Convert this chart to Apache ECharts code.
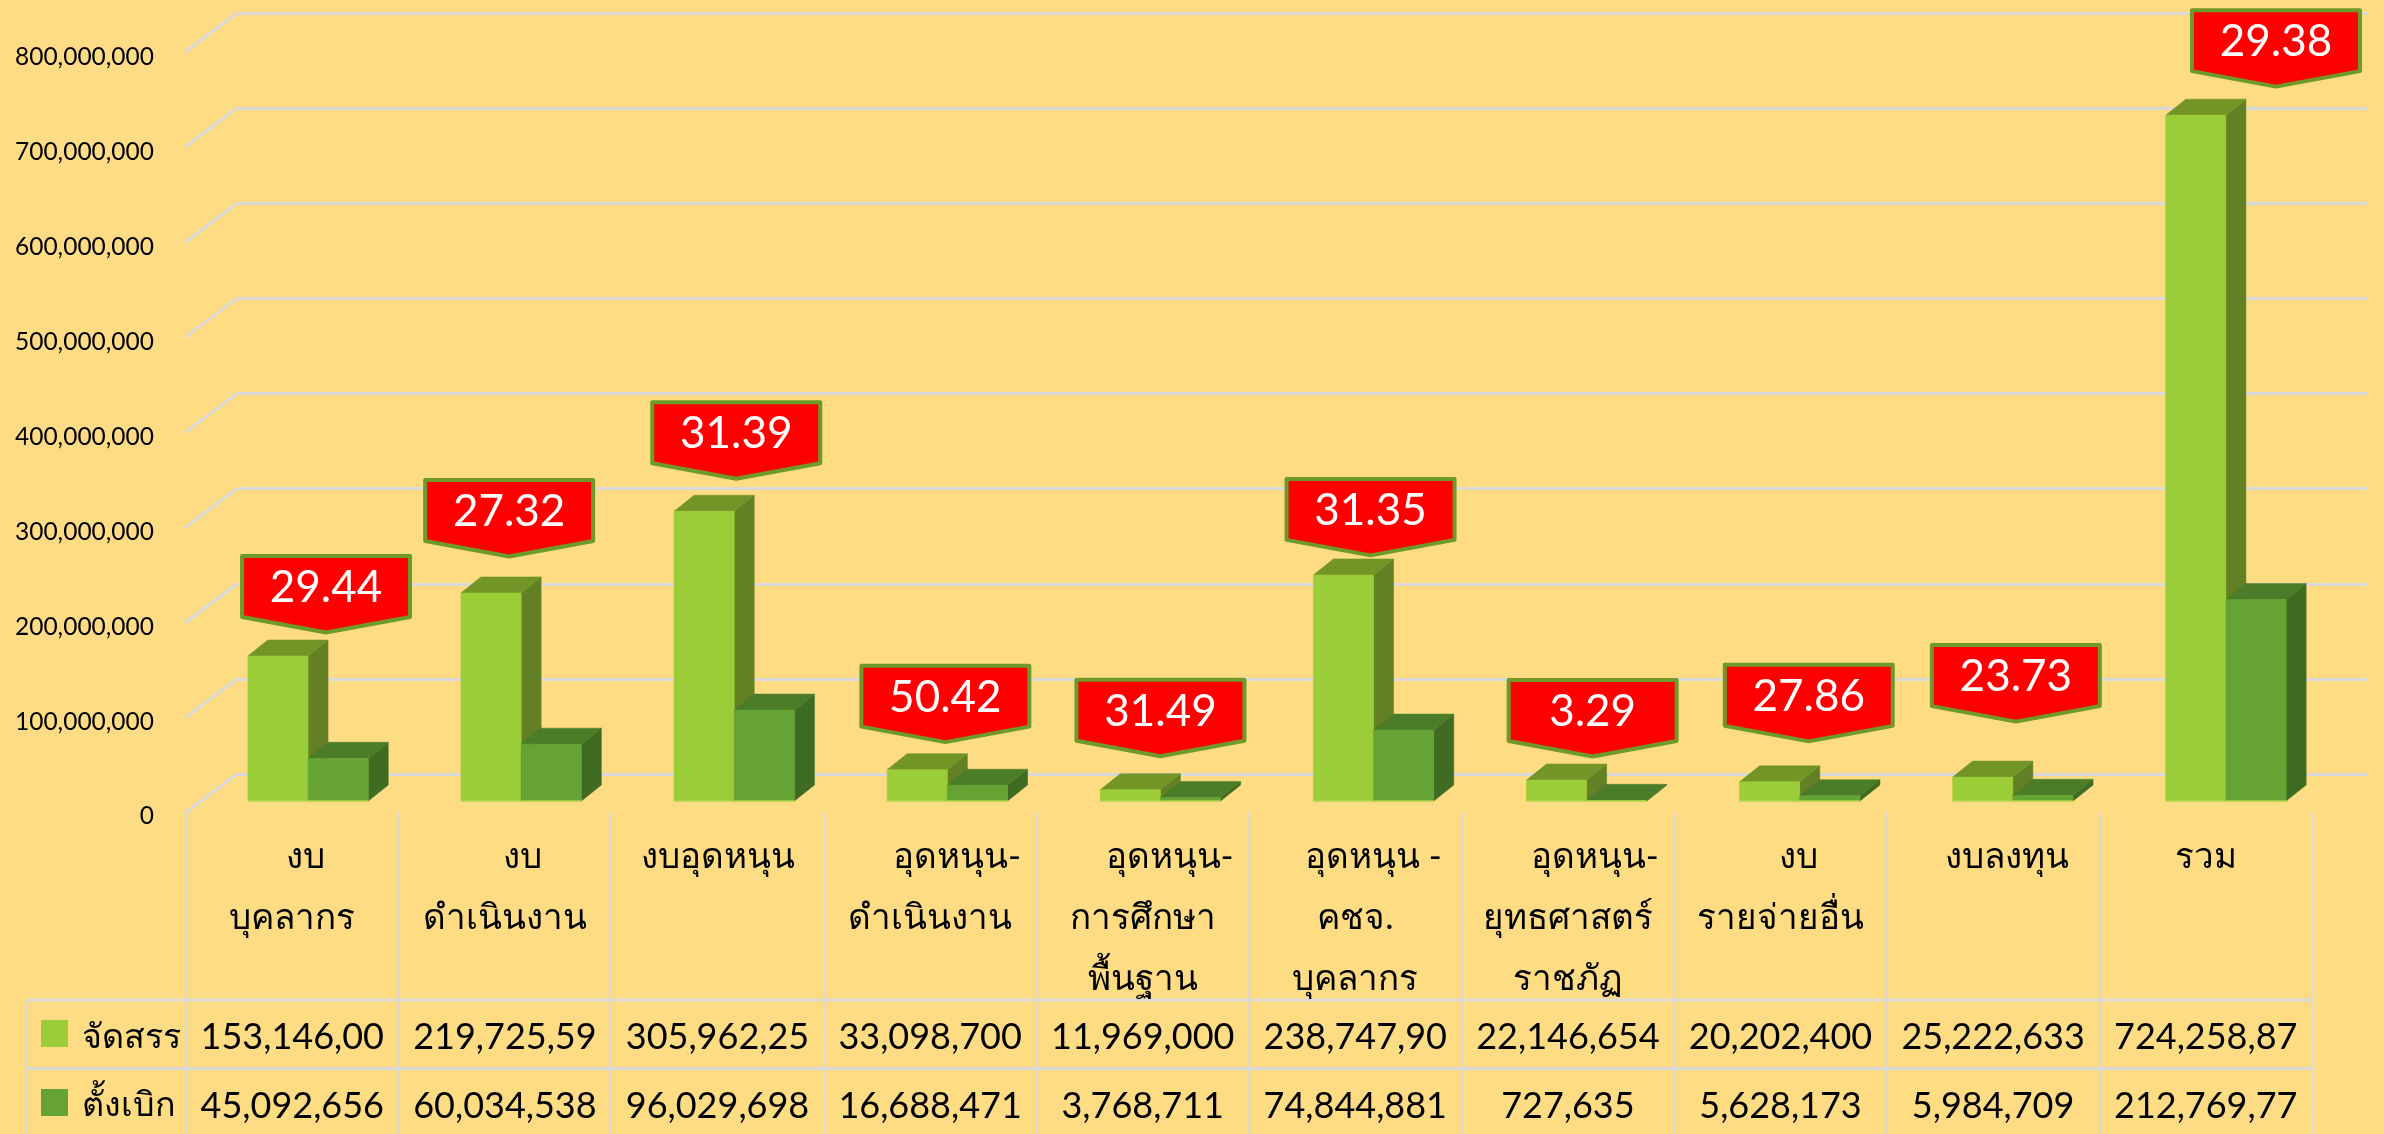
<!DOCTYPE html>
<html><head><meta charset="utf-8">
<style>html,body{margin:0;padding:0;background:#FEDC83}#c{width:2384px;height:1134px}</style>
<script src="https://cdn.jsdelivr.net/npm/echarts@6/dist/echarts.min.js"></script>
</head><body><div id="c"></div>
<script>
const categories = [
  '\u00A0\u00A0\u00A0งบ\nบุคลากร',
  '\u00A0\u00A0\u00A0\u00A0งบ\nดำเนินงาน',
  'งบอุดหนุน',
  '\u00A0\u00A0\u00A0\u00A0\u00A0\u00A0อุดหนุน-\nดำเนินงาน',
  '\u00A0\u00A0\u00A0\u00A0\u00A0\u00A0อุดหนุน-\nการศึกษา\nพื้นฐาน',
  '\u00A0\u00A0\u00A0\u00A0อุดหนุน -\nคชจ.\nบุคลากร',
  '\u00A0\u00A0\u00A0\u00A0\u00A0\u00A0อุดหนุน-\nยุทธศาสตร์\nราชภัฏ',
  '\u00A0\u00A0\u00A0\u00A0งบ\nรายจ่ายอื่น',
  '\u00A0\u00A0\u00A0งบลงทุน',
  'รวม'
];
const allocated = [153146000,219725590,305962250,33098700,11969000,238747900,22146654,20202400,25222633,724258870];
const disbursed = [45092656,60034538,96029698,16688471,3768711,74844881,727635,5628173,5984709,212769770];
const allocatedText = ['153,146,00','219,725,59','305,962,25','33,098,700','11,969,000','238,747,90','22,146,654','20,202,400','25,222,633','724,258,87'];
const disbursedText = ['45,092,656','60,034,538','96,029,698','16,688,471','3,768,711','74,844,881','727,635','5,628,173','5,984,709','212,769,77'];
const percents = ['29.44','27.32','31.39','50.42','31.49','31.35','3.29','27.86','23.73','29.38'];
const yTicks = [0,100000000,200000000,300000000,400000000,500000000,600000000,700000000,800000000];
const yTickLabels = ['0','100,000,000','200,000,000','300,000,000','400,000,000','500,000,000','600,000,000','700,000,000','800,000,000'];
const seriesNames = ['จัดสรร','ตั้งเบิก'];

const FONT = 'Lato, "Noto Sans", sans-serif';
const GRID = '#D9D9D9';
const calloutDx = [18,-12,2,-2,0,-3,6,9,3,50];
const calloutGap = [7,20,16,11,17,3,7,24,39,12];

function bar3d(faces, side){
  return function(params, api){
    const i = api.value(0), v = api.value(1);
    const p = api.coord([i, v]), b = api.coord([i, 0]);
    const w = api.size([1,0])[0] * 0.2825;
    const x0 = side < 0 ? p[0] - w : p[0], x1 = x0 + w;
    const dx = 20, dy = 16;
    const poly = (pts, fill) => ({type:'polygon', shape:{points:pts}, style:{fill, stroke:fill, lineWidth:0.5}});
    return {type:'group', children:[
      poly([[x1,p[1]],[x1+dx,p[1]-dy],[x1+dx,b[1]-dy],[x1,b[1]]], faces.side),
      poly([[x0,p[1]],[x0+dx,p[1]-dy],[x1+dx,p[1]-dy],[x1,p[1]]], faces.top),
      poly([[x0,p[1]],[x1,p[1]],[x1,b[1]],[x0,b[1]]], faces.front),
      {type:'line', shape:{x1:x0,y1:b[1],x2:x1,y2:b[1]}, style:{stroke:'#B4D64E',lineWidth:1.5}}
    ]};
  };
}
const lightFaces = {front:'#9ACD37', top:'#739528', side:'#638025'};
const darkFaces = {front:'#65A334', top:'#4B7C28', side:'#3F6C22'};

function tableText(arr, cy, opts){
  return {
    type:'custom', coordinateSystem:'cartesian2d', xAxisIndex:3, yAxisIndex:3, silent:true, z:5,
    data: arr.map((t,i)=>[i,0]),
    renderItem(params, api){
      const i = api.value(0);
      const c = api.coord([i,0]);
      return {type:'text', style:Object.assign({text:arr[i], x:c[0], y:cy, align:'center', verticalAlign:'middle', fill:'#000', font:'36px '+FONT}, opts||{})};
    }
  };
}

const option = {
  backgroundColor:'#FEDC83',
  animation:false,
  grid:[
    {left:237, width:2130, top:13, height:761},
    {left:186, width:10, top:57.5, height:759},
    {left:201.5, width:2131, top:43.4, height:757.6},
    {left:186, width:2126, top:812, height:322}
  ],
  xAxis:[
    {gridIndex:0, type:'value', min:0, max:1, show:false},
    {gridIndex:1, type:'value', min:0, max:1, show:false},
    {gridIndex:2, type:'category', data:categories, show:false},
    {gridIndex:3, type:'category', data:categories, axisLine:{show:false}, axisTick:{show:false}, axisLabel:{show:false},
     splitLine:{show:true, interval:0, lineStyle:{color:GRID, width:2}}}
  ],
  yAxis:[
    {gridIndex:0, type:'value', min:0, max:800000000, interval:100000000, axisLine:{show:false}, axisTick:{show:false}, axisLabel:{show:false},
     splitLine:{show:true, lineStyle:{color:GRID, width:3}}},
    {gridIndex:1, type:'value', min:0, max:800000000, interval:100000000, axisLine:{show:false}, axisTick:{show:false}, splitLine:{show:false},
     axisLabel:{margin:32, color:'#000', fontFamily:FONT, fontSize:24.5, formatter:(v)=>yTickLabels[yTicks.indexOf(v)]}},
    {gridIndex:2, type:'value', min:0, max:800000000, show:false},
    {gridIndex:3, type:'value', min:0, max:1, show:false}
  ],
  graphic:[
    ...[1000,1068.5].map(y=>({type:'line', silent:true, shape:{x1:26.5,y1:y,x2:2312,y2:y}, style:{stroke:GRID,lineWidth:3}})),
    {type:'line', silent:true, shape:{x1:26.5,y1:1000,x2:26.5,y2:1134}, style:{stroke:GRID,lineWidth:2}},
    {type:'rect', silent:true, shape:{x:41,y:1020,width:27,height:27}, style:{fill:lightFaces.front}},
    {type:'rect', silent:true, shape:{x:41,y:1089,width:27,height:27}, style:{fill:darkFaces.front}},
    {type:'text', silent:true, style:{text:seriesNames[0], x:82, y:1037, verticalAlign:'middle', fill:'#000', font:'34px '+FONT}},
    {type:'text', silent:true, style:{text:seriesNames[1], x:82, y:1105, verticalAlign:'middle', fill:'#000', font:'34px '+FONT}}
  ],
  series:[
    {type:'custom', xAxisIndex:0, yAxisIndex:0, silent:true, z:1, data:yTicks.map(v=>[0,v]),
     renderItem(params, api){
       const p = api.coord([0, api.value(1)]);
       return {type:'line', shape:{x1:p[0],y1:p[1],x2:p[0]-52,y2:p[1]+39}, style:{stroke:GRID,lineWidth:3}};
     }},
    {type:'custom', name:seriesNames[0], xAxisIndex:2, yAxisIndex:2, silent:true, z:2,
     data:allocated.map((v,i)=>[i,v]), renderItem:bar3d(lightFaces,-1)},
    {type:'custom', name:seriesNames[1], xAxisIndex:2, yAxisIndex:2, silent:true, z:3,
     data:disbursed.map((v,i)=>[i,v]), renderItem:bar3d(darkFaces,1)},
    {type:'custom', xAxisIndex:2, yAxisIndex:2, silent:true, z:4,
     data:allocated.map((v,i)=>[i,v]),
     renderItem(params, api){
       const i = api.value(0);
       const p = api.coord([i, api.value(1)]);
       const tipX = p[0] + calloutDx[i], tipY = p[1] - 16 - calloutGap[i];
       const hw = 84, top = tipY - 77, sh = tipY - 16;
       return {type:'group', children:[
         {type:'polygon', shape:{points:[[tipX-hw,top],[tipX+hw,top],[tipX+hw,sh],[tipX,tipY-0.5],[tipX-hw,sh]]},
          style:{fill:'#FF0000', stroke:'#6E9A2A', lineWidth:4, lineJoin:'round'}},
         {type:'text', style:{text:percents[i], x:tipX, y:top+32, align:'center', verticalAlign:'middle', fill:'#fff', font:'44px '+FONT}}
       ]};
     }},
    tableText(categories, 826.5, {verticalAlign:'top', lineHeight:61, font:'35px '+FONT}),
    tableText(allocatedText, 1037),
    tableText(disbursedText, 1106)
  ]
};
echarts.init(document.getElementById('c'), null, {renderer:'canvas'}).setOption(option);
</script></body></html>
